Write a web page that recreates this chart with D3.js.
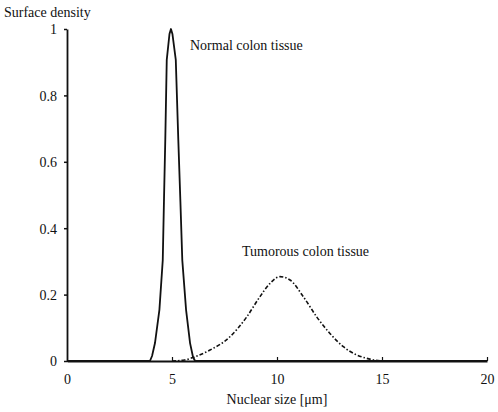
<!DOCTYPE html>
<html>
<head>
<meta charset="utf-8">
<script src="https://cdn.jsdelivr.net/npm/d3@7"></script>
<style>
  body { margin: 0; background: #fff; }
  svg text { font-family: "Liberation Serif", "DejaVu Serif", serif; fill: #111; }
</style>
</head>
<body>
<svg id="chart" width="498" height="412"></svg>
<script>
// Nuclear size distributions
const normalX = [0, 3.8, 3.95, 4.05, 4.19, 4.40, 4.56, 4.62, 4.68, 4.75, 4.88, 4.95, 5.02, 5.18, 5.30, 5.40, 5.49, 5.67, 5.86, 6.0, 6.10, 20];
const normalY = [0, 0, 0.0, 0.015, 0.054, 0.154, 0.304, 0.49, 0.666, 0.907, 0.985, 1.0, 0.985, 0.907, 0.666, 0.48, 0.304, 0.154, 0.054, 0.012, 0.0, 0];

const tumorX = [5.0, 5.6, 6.1, 6.81, 7.76, 8.56, 9.19, 9.67, 10.14, 10.62, 11.25, 11.89, 12.52, 13.16, 13.8, 14.27, 14.7, 15.0];
const tumorY = [0, 0.003, 0.013, 0.033, 0.073, 0.133, 0.194, 0.234, 0.254, 0.244, 0.194, 0.133, 0.083, 0.043, 0.018, 0.008, 0.002, 0];

const xTicks = [0, 5, 10, 15, 20];
const yTicks = [0, 0.2, 0.4, 0.6, 0.8, 1];

const svg = d3.select('#chart');

const x = d3.scaleLinear().domain([0, 20]).range([67, 487]);
const y = d3.scaleLinear().domain([0, 1]).range([361, 29]);

// axes
const yAxis = svg.append('g')
    .attr('transform', `translate(${x(0)},0)`)
    .call(d3.axisLeft(y).tickValues(yTicks).tickSize(3).tickSizeOuter(0)
        .tickFormat(d => d === 0 || d === 1 ? d : d3.format('.1f')(d)));
yAxis.select('.domain').attr('stroke', '#111').attr('stroke-width', 1.8);
yAxis.selectAll('.tick line').attr('stroke', '#111').attr('stroke-width', 1.5);
yAxis.selectAll('.tick text').attr('x', -10).attr('dy', '0.35em').style('font-size', '14px');

const xAxis = svg.append('g')
    .attr('transform', `translate(0,${y(0)})`)
    .call(d3.axisBottom(x).tickValues(xTicks).tickSize(-4).tickSizeOuter(0));
xAxis.select('.domain').attr('stroke', '#111').attr('stroke-width', 1.8);
xAxis.selectAll('.tick line').attr('stroke', '#111').attr('stroke-width', 1.2)
    .attr('opacity', d => d === 0 ? 0 : 1);
xAxis.selectAll('.tick text').attr('y', 13).style('font-size', '14px');

// curves
const line = d3.line().x(d => x(d[0])).y(d => y(d[1])).curve(d3.curveMonotoneX);

svg.append('path')
    .datum(d3.zip(tumorX, tumorY))
    .attr('d', line)
    .attr('fill', 'none')
    .attr('stroke', '#111')
    .attr('stroke-width', 1.6)
    .attr('stroke-dasharray', '4,2,1.5,2');

svg.append('path')
    .datum(d3.zip(normalX, normalY))
    .attr('d', d3.line().x(d => x(d[0])).y(d => y(d[1])))
    .attr('fill', 'none')
    .attr('stroke', '#111')
    .attr('stroke-width', 1.8)
    .attr('stroke-linejoin', 'round');

// labels
svg.append('text').attr('x', 4).attr('y', 17).style('font-size', '14px').text('Surface density');
svg.append('text').attr('x', 190).attr('y', 50).style('font-size', '14px').text('Normal colon tissue');
svg.append('text').attr('x', 242).attr('y', 256).style('font-size', '14px').text('Tumorous colon tissue');
svg.append('text').attr('x', 277).attr('y', 404).attr('text-anchor', 'middle')
    .style('font-size', '14px').text('Nuclear size [μm]');
</script>
</body>
</html>
